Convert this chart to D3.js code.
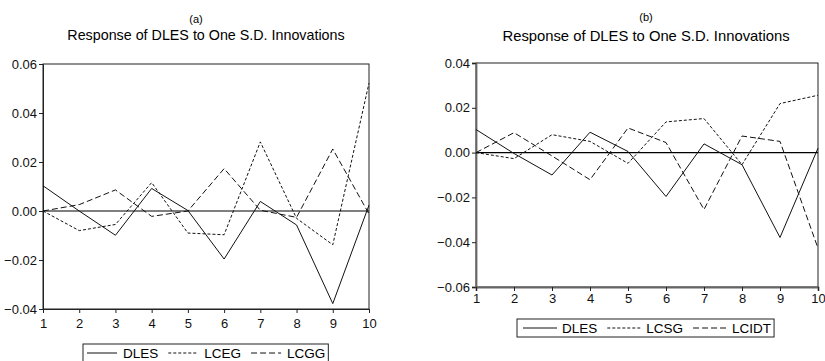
<!DOCTYPE html>
<html>
<head>
<meta charset="utf-8">
<script src="https://cdn.jsdelivr.net/npm/d3@7"></script>
<style>
	body { margin: 0; background: #fff; }
	svg { display: block; font-family: "Liberation Sans", Arial, sans-serif; }
</style>
</head>
<body>
<div id="chart"></div>
<script>
// horizon (periods)
var periods = [1, 2, 3, 4, 5, 6, 7, 8, 9, 10];

// panel (a)
var dlesA = [0.0103, 0.0000, -0.0099, 0.0092, 0.0002, -0.0196, 0.0039, -0.0057, -0.0378, 0.0024];
var lcegA = [0.0000, -0.0080, -0.0055, 0.0116, -0.0090, -0.0097, 0.0282, -0.0030, -0.0138, 0.0522];
var lcggA = [0.0000, 0.0026, 0.0086, -0.0022, 0.0000, 0.0173, 0.0003, -0.0026, 0.0253, -0.0012];
var yTicksA = [-0.04, -0.02, 0.00, 0.02, 0.04, 0.06];

// panel (b)
var dlesB = [0.0103, -0.0004, -0.0100, 0.0091, 0.0005, -0.0196, 0.0039, -0.0054, -0.0379, 0.0020];
var lcsgB = [0.0000, -0.0027, 0.0080, 0.0050, -0.0048, 0.0137, 0.0152, -0.0054, 0.0219, 0.0256];
var lcidtB = [0.0000, 0.0089, -0.0015, -0.0121, 0.0110, 0.0045, -0.0254, 0.0074, 0.0050, -0.0427];
var yTicksB = [-0.06, -0.04, -0.02, 0.00, 0.02, 0.04];

var W = 825, H = 361;
var svg = d3.select('#chart').append('svg')
	.attr('width', W)
	.attr('height', H);

var styles = {
	solid: null,
	short: '3,2',
	long: '6,3'
};

function drawPanel(o) {
	var x = d3.scaleLinear().domain([1, 10]).range([o.left, o.right]);
	var y = d3.scaleLinear().domain(o.yDomain).range([o.bottom, o.top]);
	var g = svg.append('g');

	// titles
	g.append('text')
		.attr('x', o.letterX).attr('y', o.letterY)
		.attr('text-anchor', 'middle')
		.style('font-size', '11px')
		.text(o.letter);
	g.append('text')
		.attr('x', o.titleX).attr('y', o.titleY)
		.attr('text-anchor', 'middle')
		.style('font-size', o.titleSize)
		.text('Response of DLES to One S.D. Innovations');

	// frame
	g.append('rect')
		.attr('x', o.left).attr('y', o.top)
		.attr('width', o.right - o.left)
		.attr('height', o.bottom - o.top)
		.attr('fill', 'none')
		.attr('stroke', '#222')
		.attr('stroke-width', 1);

	var yAxis = d3.axisLeft(y).tickValues(o.yTicks).tickSize(4).tickPadding(2)
		.tickFormat(d3.format('.2f'));
	var gy = g.append('g')
		.attr('transform', 'translate(' + o.left + ',0)')
		.call(yAxis);

	var xAxis = d3.axisBottom(x).tickValues(periods).tickSize(4).tickPadding(o.xPad)
		.tickFormat(d3.format('d'));
	var gx = g.append('g')
		.attr('transform', 'translate(0,' + o.bottom + ')')
		.call(xAxis);

	[gx, gy].forEach(function(a) {
		a.select('.domain').attr('stroke', o.axisColor).attr('stroke-width', o.axisWidth);
		a.selectAll('.tick line').attr('stroke', '#222');
		a.selectAll('.tick text')
			.attr('fill', '#111')
			.style('font-size', '13px')
			.style('font-family', '"Liberation Sans", Arial, sans-serif');
	});

	// zero line
	g.append('line')
		.attr('x1', o.left).attr('x2', o.right)
		.attr('y1', y(0)).attr('y2', y(0))
		.attr('stroke', '#000')
		.attr('stroke-width', 1.2);

	var line = d3.line()
		.x(function(d, i) { return x(periods[i]); })
		.y(function(d) { return y(d); });

	o.series.forEach(function(s) {
		g.append('path')
			.datum(s.values)
			.attr('d', line)
			.attr('fill', 'none')
			.attr('stroke', '#111')
			.attr('stroke-width', 1)
			.attr('stroke-dasharray', styles[s.dash]);
	});

	// legend
	var lg = g.append('g');
	var cx = o.legendLeft + o.legendPad;
	var midY = o.legendTop + 9;
	o.series.forEach(function(s) {
		lg.append('line')
			.attr('x1', cx).attr('x2', cx + o.sampleLen)
			.attr('y1', midY).attr('y2', midY)
			.attr('stroke', '#111')
			.attr('stroke-dasharray', styles[s.dash]);
		cx += o.sampleLen + o.sampleGap;
		var t = lg.append('text')
			.attr('x', cx).attr('y', midY + 5)
			.style('font-size', '13.5px')
			.text(s.name);
		cx += t.node().getComputedTextLength() + 10;
	});
	lg.insert('rect', ':first-child')
		.attr('x', o.legendLeft).attr('y', o.legendTop)
		.attr('width', cx - 10 + 3 - o.legendLeft)
		.attr('height', o.legendH)
		.attr('fill', '#fff')
		.attr('stroke', '#222');
}

drawPanel({
	letter: '(a)', letterX: 196, letterY: 23,
	titleX: 206, titleY: 40, titleSize: '14.3px',
	left: 43, right: 369, top: 64, bottom: 309,
	yDomain: [-0.04, 0.06], yTicks: yTicksA, xPad: 6,
	axisColor: '#222', axisWidth: 1,
	legendLeft: 83, legendTop: 344, legendH: 22,
	legendPad: 4, sampleLen: 30, sampleGap: 6,
	series: [
		{ name: 'DLES', values: dlesA, dash: 'solid' },
		{ name: 'LCEG', values: lcegA, dash: 'short' },
		{ name: 'LCGG', values: lcggA, dash: 'long' }
	]
});

drawPanel({
	letter: '(b)', letterX: 646, letterY: 21,
	titleX: 646, titleY: 41, titleSize: '14.8px',
	left: 476, right: 818, top: 63, bottom: 287,
	yDomain: [-0.06, 0.04], yTicks: yTicksB, xPad: 3,
	axisColor: '#666', axisWidth: 1.8,
	legendLeft: 517, legendTop: 319, legendH: 18,
	legendPad: 6, sampleLen: 34, sampleGap: 5,
	series: [
		{ name: 'DLES', values: dlesB, dash: 'solid' },
		{ name: 'LCSG', values: lcsgB, dash: 'short' },
		{ name: 'LCIDT', values: lcidtB, dash: 'long' }
	]
});
</script>
</body>
</html>
